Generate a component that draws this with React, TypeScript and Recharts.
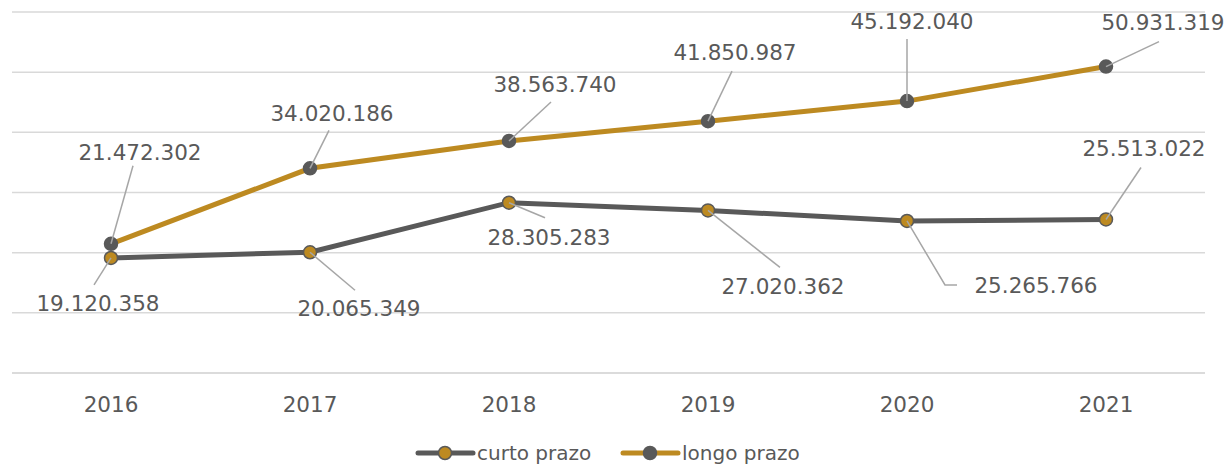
import React from 'react';
import { LineChart, Line, XAxis, YAxis, CartesianGrid, Legend, LabelList } from 'recharts';

const years = ['2016', '2017', '2018', '2019', '2020', '2021'];
const curtoPrazo = [19120358, 20065349, 28305283, 27020362, 25265766, 25513022];
const longoPrazo = [21472302, 34020186, 38563740, 41850987, 45192040, 50931319];
const yTicks = [0, 10000000, 20000000, 30000000, 40000000, 50000000, 60000000];

const data = years.map((year, i) => ({ year, curto: curtoPrazo[i], longo: longoPrazo[i] }));

// label layout: [textDx, textDy, leaderDx, leaderDy, elbowDx?]
const curtoLabelLayout = [
  [-13, 45, -17, 27],
  [49, 56, 45, 38],
  [40, 34, 36, 15],
  [75, 76, 72, 57],
  [129, 64, 38, 64, 50],
  [38, -71, 35, -52],
];
const longoLabelLayout = [
  [29, -92, 22, -78],
  [22, -55, 19, -38],
  [46, -57, 42, -39],
  [27, -69, 24, -50],
  [5, -80, 0, -62],
  [57, -44, 53, -25],
];

const GOLD = '#bd8a21';
const DARK = '#595959';
const GRID = '#d9d9d9';
const LEADER = '#a6a6a6';
const FONT = '"DejaVu Sans", sans-serif';
const LABEL_SIZE = 21.5;

const fmt = (v: number) => String(Math.round(v)).replace(/\B(?=(\d{3})+(?!\d))/g, '.');

const makeLabel = (layout: number[][]) => (props: any) => {
  const { x, y, value, index } = props;
  const l = layout[index];
  if (!l) return null;
  const [tdx, tdy, ldx, ldy, edx] = l;
  const px = Number(x);
  const py = Number(y);
  return (
    <g key={`lbl-${index}`}>
      {edx !== undefined ? (
        <polyline
          points={`${px},${py} ${px + ldx},${py + ldy} ${px + edx},${py + ldy}`}
          fill="none"
          stroke={LEADER}
          strokeWidth={1.5}
        />
      ) : (
        <line x1={px} y1={py} x2={px + ldx} y2={py + ldy} stroke={LEADER} strokeWidth={1.5} />
      )}
      <text
        x={px + tdx}
        y={py + tdy + LABEL_SIZE * 0.365}
        textAnchor="middle"
        fontFamily={FONT}
        fontSize={LABEL_SIZE}
        fill={DARK}
      >
        {fmt(Number(value))}
      </text>
    </g>
  );
};

const LegendContent = () => {
  const items = [
    { name: 'curto prazo', line: DARK, dot: GOLD, x0: 406 },
    { name: 'longo prazo', line: GOLD, dot: DARK, x0: 611 },
  ];
  return (
    <svg width={1193} height={30} style={{ display: 'block' }}>
      {items.map((it) => (
        <g key={it.name}>
          <line x1={it.x0} y1={17} x2={it.x0 + 55} y2={17} stroke={it.line} strokeWidth={5} strokeLinecap="round" />
          <circle cx={it.x0 + 27} cy={17} r={6.5} fill={it.dot} stroke={DARK} strokeWidth={1.5} />
          <text x={it.x0 + 59} y={17 + 20 * 0.36} fontFamily={FONT} fontSize={20} fill={DARK}>
            {it.name}
          </text>
        </g>
      ))}
    </svg>
  );
};

export default function App() {
  return (
    <div style={{ position: 'absolute', left: 0, top: 0, background: '#fff' }}>
      <LineChart
        width={1227}
        height={466}
        data={data}
        margin={{ top: 12, right: 22, bottom: 0, left: 12 }}
      >
        <CartesianGrid horizontal vertical={false} stroke={GRID} strokeWidth={1.5} />
        <XAxis
          dataKey="year"
          padding={{ left: 99, right: 99 }}
          axisLine={{ stroke: GRID, strokeWidth: 1.5 }}
          tickLine={false}
          tickMargin={18}
          height={63}
          tick={{ fill: DARK, fontSize: 21.5, fontFamily: FONT }}
        />
        <YAxis hide domain={[0, 60000000]} ticks={yTicks} />
        <Legend verticalAlign="bottom" height={30} content={<LegendContent />} />
        <Line
          dataKey="longo"
          name="longo prazo"
          stroke={GOLD}
          strokeWidth={5}
          dot={{ r: 6.5, fill: DARK, stroke: DARK, strokeWidth: 1.5 }}
          activeDot={false}
          isAnimationActive={false}
        >
          <LabelList dataKey="longo" content={makeLabel(longoLabelLayout)} />
        </Line>
        <Line
          dataKey="curto"
          name="curto prazo"
          stroke={DARK}
          strokeWidth={5}
          dot={{ r: 6.5, fill: GOLD, stroke: DARK, strokeWidth: 1.5 }}
          activeDot={false}
          isAnimationActive={false}
        >
          <LabelList dataKey="curto" content={makeLabel(curtoLabelLayout)} />
        </Line>
      </LineChart>
    </div>
  );
}
